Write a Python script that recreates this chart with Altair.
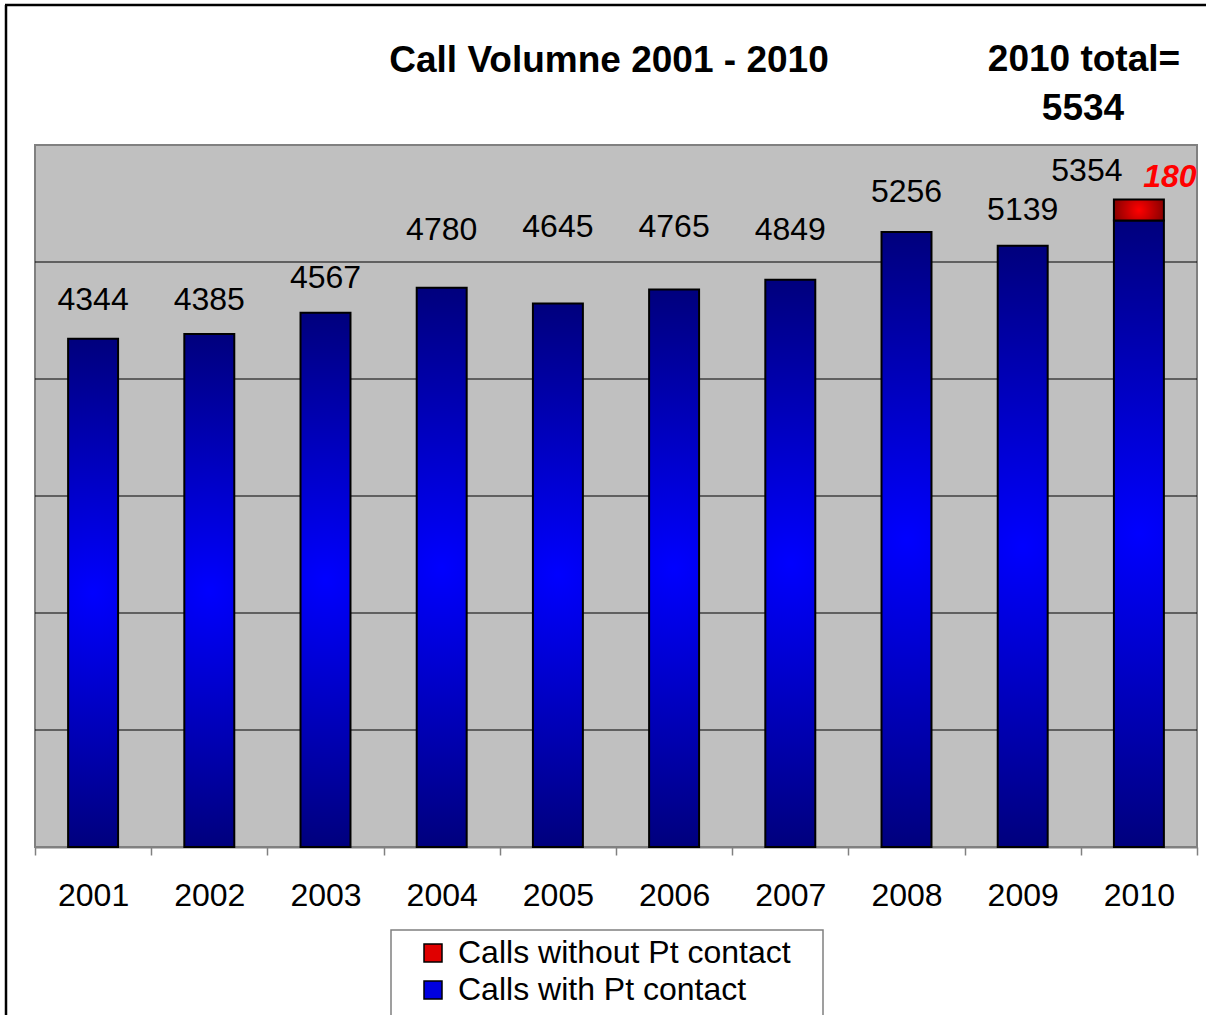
import altair as alt
import pandas as pd

years = ["2001", "2002", "2003", "2004", "2005", "2006", "2007", "2008", "2009", "2010"]
with_contact = [4344, 4385, 4567, 4780, 4645, 4765, 4849, 5256, 5139, 5354]
without_contact = [0, 0, 0, 0, 0, 0, 0, 0, 0, 180]
# vertical positions (data units) where the value labels sit
label_y = [4675, 4675, 4863, 5274, 5299, 5299, 5274, 5598, 5444, 5778]
grid_values = [1000, 2000, 3000, 4000, 5000]
series = ["Calls without Pt contact", "Calls with Pt contact"]
series_colors = ["#E00000", "#0000E0"]
title_text = "Call Volumne 2001 - 2010"
total_text = ["2010 total=", "5534"]

FONT = "Liberation Sans"

df = pd.DataFrame({
    "year": years,
    "with": with_contact,
    "without": without_contact,
    "top": [a + b for a, b in zip(with_contact, without_contact)],
    "label": [str(v) for v in with_contact],
    "label_y": label_y,
})
df_red = df[df["without"] > 0].copy()
df_red["red_label"] = df_red["without"].astype(str)
df_lab = df[df["year"] != "2010"]
df_lab10 = df[df["year"] == "2010"]
df_grid = pd.DataFrame({"g": grid_values})

blue_grad = alt.Gradient(
    gradient="radial", x1=0.5, y1=0.5, x2=0.5, y2=0.5, r1=0, r2=0.52,
    stops=[alt.GradientStop(color="#0000FF", offset=0),
           alt.GradientStop(color="#000078", offset=1)],
)
red_grad = alt.Gradient(
    gradient="radial", x1=0.5, y1=0.5, x2=0.5, y2=0.5, r1=0, r2=0.55,
    stops=[alt.GradientStop(color="#FF0000", offset=0),
           alt.GradientStop(color="#800000", offset=1)],
)

x_enc = alt.X(
    "year:N",
    sort=years,
    scale=alt.Scale(paddingInner=0, paddingOuter=0),
    axis=alt.Axis(title=None, labelAngle=0, labelFontSize=32, labelFont=FONT,
                  labelColor="black", tickBand="extent", tickColor="#808080",
                  tickSize=8, tickWidth=1.5, domainColor="#808080", domainWidth=2,
                  labelPadding=25),
)
y_scale = alt.Scale(domain=[0, 6000], nice=False)
y_axis = alt.Axis(title=None, labels=False, ticks=False, domain=False, grid=False)

BAR_W = {"band": 0.43}

plot_bg = alt.Chart(alt.Data(values=[{}])).mark_rect(fill="#C0C0C0", stroke="#808080", strokeWidth=2).encode(
    x=alt.value(0), x2=alt.value(1162), y=alt.value(0), y2=alt.value(702))

grid = alt.Chart(df_grid).mark_rule(color="black", strokeWidth=1).encode(
    y=alt.Y("g:Q", scale=y_scale, axis=y_axis),
    x=alt.value(0), x2=alt.value(1162),
)

bars = alt.Chart(df).mark_bar(fill=blue_grad, stroke="black", strokeWidth=2, width=BAR_W).encode(
    x=x_enc,
    y=alt.Y("with:Q", scale=y_scale, axis=y_axis),
)

red_bar = alt.Chart(df_red).mark_bar(fill=red_grad, stroke="black", strokeWidth=2, width=BAR_W).encode(
    x=alt.X("year:N", sort=years),
    y=alt.Y("with:Q"),
    y2="top:Q",
)

labels = alt.Chart(df_lab).mark_text(font=FONT, fontSize=32, color="black", baseline="middle").encode(
    x=alt.X("year:N", sort=years),
    y=alt.Y("label_y:Q"),
    text="label:N",
)
label10 = alt.Chart(df_lab10).mark_text(font=FONT, fontSize=32, color="black", baseline="middle", dx=-52).encode(
    x=alt.X("year:N", sort=years),
    y=alt.Y("label_y:Q"),
    text="label:N",
)
red_label = alt.Chart(df_red).mark_text(font=FONT, fontSize=32, color="#FF0000", fontWeight="bold",
                                        fontStyle="italic", baseline="middle", dx=31, dy=6).encode(
    x=alt.X("year:N", sort=years),
    y=alt.Y("label_y:Q"),
    text="red_label:N",
)

title = alt.Chart(alt.Data(values=[{"t": title_text}])).mark_text(
    font=FONT, fontSize=37, fontWeight="bold", color="black", baseline="middle", align="center"
).encode(x=alt.value(574), y=alt.value(-84), text="t:N")

total1 = alt.Chart(alt.Data(values=[{"t": total_text[0]}])).mark_text(
    font=FONT, fontSize=37, fontWeight="bold", color="black", baseline="middle", align="center"
).encode(x=alt.value(1049), y=alt.value(-85), text="t:N")
total2 = alt.Chart(alt.Data(values=[{"t": total_text[1]}])).mark_text(
    font=FONT, fontSize=37, fontWeight="bold", color="black", baseline="middle", align="center"
).encode(x=alt.value(1048), y=alt.value(-36), text="t:N")

legend_box = alt.Chart(alt.Data(values=[{}])).mark_rect(fill="white", stroke="#808080", strokeWidth=1.5).encode(
    x=alt.value(356), x2=alt.value(788), y=alt.value(785), y2=alt.value(900))

legend_df = pd.DataFrame({"series": series})
legend_layer = alt.Chart(legend_df).mark_square(opacity=0).encode(
    color=alt.Color("series:N", sort=series,
                    scale=alt.Scale(domain=series, range=series_colors),
                    legend=alt.Legend(title=None, orient="none", legendX=382, legendY=792,
                                      labelFontSize=32, labelFont=FONT, labelColor="black",
                                      labelLimit=600,
                                      symbolType="square", symbolSize=324, symbolOpacity=1,
                                      symbolStrokeColor="black", symbolStrokeWidth=1.5,
                                      labelOffset=9, rowPadding=5, padding=0)),
)

frame_left = alt.Chart(alt.Data(values=[{}])).mark_rule(color="black", strokeWidth=2.5).encode(
    x=alt.value(-29), y=alt.value(-140), y2=alt.value(880))
frame_top = alt.Chart(alt.Data(values=[{}])).mark_rule(color="black", strokeWidth=2.5).encode(
    x=alt.value(-30), x2=alt.value(1175), y=alt.value(-140))

chart = alt.layer(
    plot_bg, grid, bars, red_bar, labels, label10, red_label, title, total1, total2,
    legend_box, legend_layer, frame_left, frame_top,
).properties(
    width=1162, height=702,
    autosize=alt.AutoSizeParams(type="none"),
    padding={"left": 35, "top": 145, "right": 9, "bottom": 168},
    background="white",
).configure(font=FONT).configure_view(
    stroke="#808080", strokeWidth=2,
)

chart.save("out.html", embed_options={"renderer": "svg", "actions": False})
